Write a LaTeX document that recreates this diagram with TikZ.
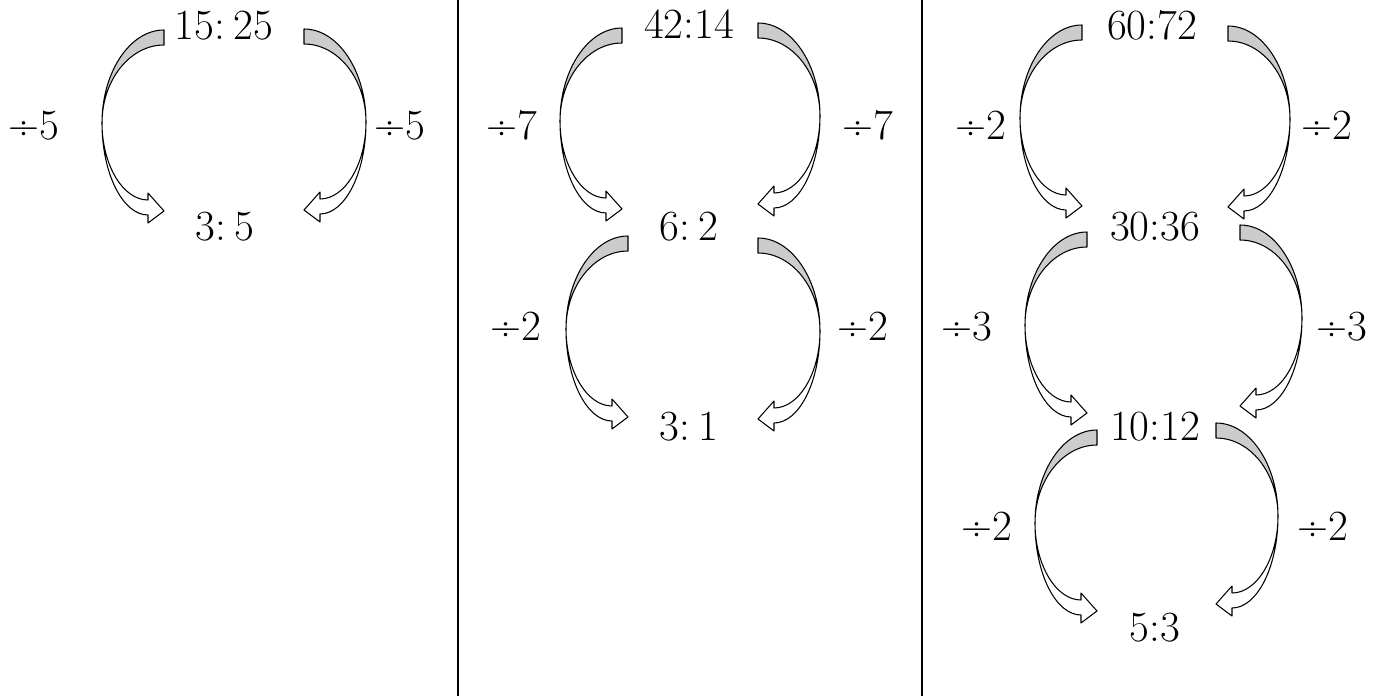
\documentclass[tikz,border=0pt]{standalone}
\usepackage{tikz}

% one curved block arrow: top end at (#1,#2), #3 = 1 bends left, -1 bends right
\newcommand{\bentarrow}[3]{%
  \begin{scope}[shift={(#1,#2)}, xscale=#3]
    \draw[front] (-62,93) .. controls (-62,144) and (-41,185) .. (-16,185) -- (-16,193) -- (0,181) -- (-16,163) -- (-16,170) .. controls (-41,170) and (-62,135) .. (-62,93) -- cycle;
    \draw[back] (0,0) .. controls (-34,0) and (-62,42) .. (-62,93) .. controls (-62,50) and (-34,15) .. (0,15) -- cycle;
  \end{scope}}

\begin{document}
\begin{tikzpicture}[x=0.02cm, y=-0.02cm,
    num/.style={font=\fontsize{24.5}{29}\selectfont, inner sep=0pt, anchor=base},
    back/.style={draw=black, line width=0.6pt, fill=black!20, line join=round},
    front/.style={draw=black, line width=0.6pt, fill=white, line join=round}]
  \useasboundingbox (0,0) rectangle (1384,696);

  % dividers
  \draw[line width=1.2pt] (458,0) -- (458,696);
  \draw[line width=1.2pt] (922,0) -- (922,696);

  % first column
  \node[num] (a1) at (224,40) {15:\hspace{0.2em}25};
  \node[num] (a2) at (225,240) {3:\hspace{0.2em}5};
  \node[num] (a1l) at (34,140) {÷5};
  \node[num] (a1r) at (400,140) {÷5};
  \bentarrow{164}{30}{1}
  \bentarrow{304}{29}{-1}

  % second column
  \node[num] (b1) at (689,39) {42:14};
  \node[num] (b2) at (689,240) {6:\hspace{0.2em}2};
  \node[num] (b3) at (689,440) {3:\hspace{0.2em}1};
  \node[num] (b1l) at (512,140) {÷7};
  \node[num] (b1r) at (868,140) {÷7};
  \node[num] (b2l) at (516,340) {÷2};
  \node[num] (b2r) at (863,340) {÷2};
  \bentarrow{622}{28}{1}
  \bentarrow{758}{23}{-1}
  \bentarrow{628}{236}{1}
  \bentarrow{758}{238}{-1}

  % third column
  \node[num] (c1) at (1152,40) {60:72};
  \node[num] (c2) at (1155,240) {30:36};
  \node[num] (c3) at (1155,440) {10:12};
  \node[num] (c4) at (1155,641) {5:3};
  \node[num] (c1l) at (981,140) {÷2};
  \node[num] (c1r) at (1327,140) {÷2};
  \node[num] (c2l) at (967,340) {÷3};
  \node[num] (c2r) at (1342,340) {÷3};
  \node[num] (c3l) at (987,540) {÷2};
  \node[num] (c3r) at (1323,540) {÷2};
  \bentarrow{1082}{25}{1}
  \bentarrow{1228}{26}{-1}
  \bentarrow{1087}{232}{1}
  \bentarrow{1240}{225}{-1}
  \bentarrow{1097}{430}{1}
  \bentarrow{1216}{423}{-1}
\end{tikzpicture}
\end{document}
